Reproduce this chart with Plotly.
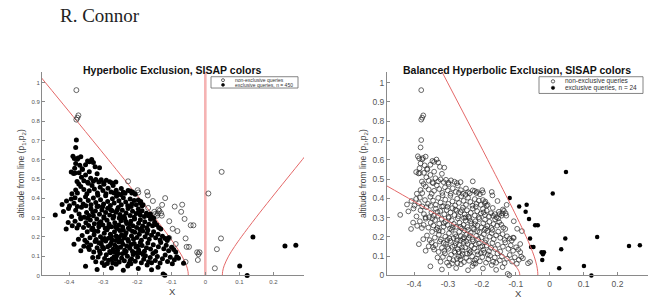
import plotly.graph_objects as go

# ---------------- data ----------------
# main query cloud: exclusive in the left chart, non-exclusive in the right chart
cluster_pts = [
    (-0.352,0.047),(-0.318,0.031),(-0.297,0.052),(-0.276,0.038),(-0.262,0.058),(-0.241,0.027),(-0.228,0.049),(-0.219,0.061),(-0.197,0.036),(-0.171,0.054),(-0.158,0.029),(-0.139,0.043),(-0.124,0.008),(-0.119,0.001),
    (-0.331,0.093),(-0.322,0.071),(-0.309,0.114),(-0.303,0.066),(-0.296,0.088),(-0.291,0.107),(-0.284,0.079),(-0.279,0.118),(-0.272,0.064),(-0.268,0.097),(-0.263,0.083),(-0.257,0.112),(-0.253,0.069),(-0.246,0.091),(-0.238,0.076),(-0.236,0.116),(-0.229,0.099),(-0.224,0.062),(-0.217,0.087),(-0.212,0.109),(-0.206,0.073),(-0.199,0.095),(-0.193,0.118),(-0.188,0.066),(-0.181,0.084),(-0.176,0.102),(-0.167,0.071),(-0.162,0.093),(-0.154,0.114),(-0.147,0.078),(-0.141,0.098),(-0.133,0.064),(-0.126,0.087),(-0.118,0.106),(-0.111,0.072),(-0.103,0.094),(-0.097,0.061),(-0.091,0.081),(-0.084,0.097),(-0.079,0.089),(-0.064,0.063),(-0.315,0.096),(-0.288,0.062),(-0.261,0.101),(-0.244,0.113),(-0.221,0.078),(-0.203,0.116),(-0.183,0.109),(-0.158,0.066),(-0.274,0.086),
    (-0.366,0.128),(-0.357,0.151),(-0.348,0.171),(-0.341,0.134),(-0.337,0.158),(-0.328,0.122),(-0.324,0.176),(-0.318,0.143),(-0.311,0.127),(-0.306,0.163),(-0.299,0.138),(-0.293,0.179),(-0.287,0.149),(-0.281,0.124),(-0.277,0.167),(-0.271,0.136),(-0.266,0.157),(-0.258,0.129),(-0.254,0.174),(-0.249,0.146),(-0.242,0.162),(-0.237,0.131),(-0.231,0.153),(-0.226,0.177),(-0.222,0.141),(-0.214,0.124),(-0.209,0.166),(-0.204,0.148),(-0.196,0.132),(-0.191,0.171),(-0.186,0.155),(-0.179,0.126),(-0.173,0.143),(-0.169,0.168),(-0.161,0.137),(-0.153,0.159),(-0.146,0.124),(-0.138,0.149),(-0.131,0.171),(-0.122,0.138),(-0.115,0.156),(-0.108,0.128),(-0.099,0.146),(-0.093,0.134),(-0.087,0.121),(-0.344,0.146),(-0.302,0.148),(-0.268,0.122),(-0.246,0.177),(-0.218,0.161),(-0.199,0.151),(-0.281,0.155),(-0.233,0.124),(-0.313,0.169),(-0.259,0.145),
    (-0.386,0.162),(-0.373,0.188),(-0.362,0.207),(-0.354,0.183),(-0.347,0.226),(-0.339,0.196),(-0.334,0.238),(-0.327,0.211),(-0.321,0.186),(-0.316,0.229),(-0.308,0.201),(-0.302,0.184),(-0.297,0.219),(-0.289,0.237),(-0.284,0.193),(-0.279,0.214),(-0.273,0.183),(-0.267,0.226),(-0.262,0.204),(-0.256,0.189),(-0.251,0.233),(-0.246,0.211),(-0.239,0.194),(-0.233,0.221),(-0.228,0.186),(-0.223,0.239),(-0.217,0.205),(-0.211,0.188),(-0.207,0.224),(-0.201,0.197),(-0.194,0.213),(-0.188,0.183),(-0.184,0.231),(-0.177,0.201),(-0.171,0.219),(-0.165,0.188),(-0.158,0.208),(-0.152,0.227),(-0.146,0.195),(-0.139,0.214),(-0.133,0.184),(-0.126,0.203),(-0.118,0.191),(-0.112,0.181),(-0.108,0.196),(-0.241,0.236),(-0.276,0.202),(-0.296,0.192),(-0.253,0.198),(-0.214,0.229),(-0.327,0.232),(-0.263,0.181),(-0.236,0.207),(-0.192,0.237),(-0.169,0.236),
    (-0.409,0.241),(-0.391,0.257),(-0.383,0.281),(-0.372,0.262),(-0.366,0.294),(-0.358,0.248),(-0.351,0.273),(-0.343,0.259),(-0.338,0.287),(-0.331,0.246),(-0.326,0.268),(-0.319,0.293),(-0.313,0.253),(-0.307,0.279),(-0.301,0.262),(-0.294,0.243),(-0.289,0.286),(-0.283,0.267),(-0.276,0.252),(-0.271,0.296),(-0.266,0.273),(-0.259,0.244),(-0.254,0.262),(-0.248,0.284),(-0.243,0.251),(-0.237,0.297),(-0.231,0.269),(-0.226,0.246),(-0.219,0.281),(-0.213,0.258),(-0.208,0.293),(-0.202,0.249),(-0.196,0.271),(-0.191,0.289),(-0.184,0.256),(-0.178,0.278),(-0.172,0.247),(-0.166,0.266),(-0.161,0.291),(-0.155,0.258),(-0.149,0.276),(-0.143,0.263),(-0.137,0.248),(-0.131,0.241),(-0.377,0.246),(-0.346,0.297),(-0.298,0.298),(-0.264,0.252),(-0.221,0.266),(-0.188,0.243),(-0.253,0.298),(-0.312,0.271),(-0.286,0.249),(-0.234,0.281),(-0.403,0.274),
    (-0.441,0.314),(-0.417,0.332),(-0.402,0.347),(-0.393,0.306),(-0.381,0.338),(-0.371,0.318),(-0.364,0.354),(-0.356,0.302),(-0.349,0.327),(-0.342,0.311),(-0.336,0.346),(-0.329,0.309),(-0.323,0.334),(-0.318,0.357),(-0.311,0.317),(-0.304,0.339),(-0.298,0.304),(-0.293,0.326),(-0.287,0.349),(-0.281,0.313),(-0.274,0.336),(-0.269,0.307),(-0.263,0.328),(-0.256,0.352),(-0.251,0.316),(-0.244,0.338),(-0.239,0.305),(-0.233,0.324),(-0.227,0.347),(-0.221,0.311),(-0.214,0.333),(-0.209,0.302),(-0.203,0.321),(-0.197,0.345),(-0.191,0.314),(-0.186,0.336),(-0.179,0.306),(-0.173,0.323),(-0.167,0.309),(-0.162,0.318),(-0.157,0.302),(-0.152,0.296),(-0.366,0.301),(-0.331,0.329),(-0.302,0.356),(-0.278,0.341),(-0.248,0.301),(-0.218,0.357),(-0.195,0.327),(-0.259,0.339),
    (-0.421,0.368),(-0.408,0.386),(-0.399,0.362),(-0.394,0.397),(-0.386,0.374),(-0.376,0.358),(-0.368,0.391),(-0.359,0.371),(-0.351,0.361),(-0.344,0.388),(-0.336,0.366),(-0.329,0.402),(-0.322,0.378),(-0.314,0.359),(-0.308,0.393),(-0.299,0.371),(-0.293,0.413),(-0.287,0.384),(-0.279,0.363),(-0.273,0.398),(-0.268,0.376),(-0.261,0.411),(-0.254,0.387),(-0.247,0.366),(-0.241,0.403),(-0.234,0.381),(-0.228,0.362),(-0.221,0.396),(-0.216,0.371),(-0.209,0.388),(-0.203,0.366),(-0.197,0.391),(-0.191,0.375),(-0.186,0.362),(-0.19,0.383),(-0.183,0.366),(-0.352,0.408),(-0.383,0.403),(-0.316,0.416),(-0.248,0.418),
    (-0.392,0.424),(-0.381,0.443),(-0.376,0.427),(-0.366,0.461),(-0.357,0.446),(-0.348,0.423),(-0.341,0.439),(-0.333,0.467),(-0.326,0.448),(-0.317,0.428),(-0.309,0.457),(-0.301,0.441),(-0.292,0.424),(-0.286,0.452),(-0.277,0.433),(-0.271,0.466),(-0.262,0.442),(-0.256,0.424),(-0.247,0.451),(-0.241,0.432),(-0.236,0.426),(-0.227,0.441),(-0.221,0.438),(-0.216,0.427),(-0.214,0.433),(-0.206,0.421),(-0.372,0.474),(-0.344,0.478),(-0.298,0.473),(-0.268,0.428),
    (-0.383,0.531),(-0.377,0.487),(-0.371,0.532),(-0.364,0.509),(-0.357,0.491),(-0.352,0.521),(-0.346,0.483),(-0.337,0.504),(-0.329,0.488),(-0.322,0.498),(-0.313,0.484),(-0.306,0.496),(-0.299,0.481),(-0.291,0.493),(-0.281,0.486),(-0.274,0.479),(-0.263,0.484),(-0.394,0.536),(-0.387,0.529),(-0.361,0.549),(-0.341,0.538),(-0.318,0.527),
    (-0.381,0.581),(-0.376,0.602),(-0.369,0.571),(-0.384,0.556),(-0.352,0.574),(-0.346,0.594),(-0.341,0.589),(-0.334,0.601),(-0.329,0.586),(-0.324,0.563),(-0.311,0.559),(-0.362,0.553),(-0.389,0.618),(-0.374,0.609),
    (-0.381,0.664),(-0.379,0.702),(-0.366,0.616),(-0.385,0.607),
]
# non-exclusive in both charts
mid_pts = [
    (-0.379,0.961),(-0.373,0.83),(-0.379,0.808),(-0.376,0.818),(-0.227,0.488),(-0.199,0.442),(-0.197,0.43),
    (-0.171,0.433),(-0.169,0.415),(-0.154,0.386),(-0.127,0.366),(-0.168,0.35),(-0.15,0.33),(-0.14,0.322),
    (-0.135,0.335),(-0.148,0.318),(-0.13,0.322),(-0.128,0.31),(-0.142,0.31),(-0.106,0.281),(-0.096,0.242),
    (-0.082,0.23),(-0.106,0.194),(-0.087,0.163),(-0.058,0.07),(-0.138,0.342),
]
# non-exclusive in the left chart, exclusive in the right chart
edge_pts = [
    (0.048,0.537),(0.009,0.425),(-0.118,0.401),(-0.09,0.357),(-0.068,0.367),(-0.071,0.33),(-0.061,0.293),
    (-0.043,0.26),(-0.035,0.26),(-0.058,0.192),(0.046,0.192),(-0.055,0.148),(-0.048,0.148),(0.034,0.136),
    (-0.024,0.12),(-0.017,0.12),(-0.02,0.11),(-0.022,0.08),(0.028,0.037),
]
# exclusive in both charts
far_pts = [(0.14,0.199),(0.234,0.153),(0.266,0.157),(0.101,0.049),(0.123,0.0)]

# exclusion boundaries
hyp_left_x = [-0.05,-0.0509,-0.0552,-0.0684,-0.0861,-0.106,-0.1488,-0.1935,-0.2848,-0.3772,-0.5165]
hyp_left_y = [0,0.02,0.05,0.1,0.15,0.2,0.3,0.4,0.6,0.8,1.1]
hyp_right_x = [0.05,0.0509,0.0552,0.0684,0.0861,0.106,0.1488,0.1935,0.2848,0.331]
hyp_right_y = [0,0.02,0.05,0.1,0.15,0.2,0.3,0.4,0.6,0.7]
mid_line_x = [0, 0]
mid_line_y = [0, 1.1]
bal_upper_x = [-0.035,-0.0355,-0.0381,-0.046,-0.0569,-0.0693,-0.0963,-0.1247,-0.1829,-0.2419,-0.3309]
bal_upper_y = [0,0.02,0.05,0.1,0.15,0.2,0.3,0.4,0.6,0.8,1.1]
bal_lower_x = [-0.088,-0.0903,-0.1016,-0.1345,-0.1762,-0.2217,-0.3176,-0.4164,-0.5162]
bal_lower_y = [0,0.02,0.05,0.1,0.15,0.2,0.3,0.4,0.5]

x_ticks = [-0.4,-0.3,-0.2,-0.1,0,0.1,0.2]
x_ticktext = ["-0.4","-0.3","-0.2","-0.1","0","0.1","0.2"]
y_ticks = [0,0.1,0.2,0.3,0.4,0.5,0.6,0.7,0.8,0.9,1]
y_ticktext = ["0","0.1","0.2","0.3","0.4","0.5","0.6","0.7","0.8","0.9","1"]

titles = ["Hyperbolic Exclusion, SISAP colors", "Balanced Hyperbolic Exclusion, SISAP colors"]
legend_labels_left = ["non-exclusive queries", "exclusive queries, n = 450"]
legend_labels_right = ["non-exclusive queries", "exclusive queries, n = 24"]

# ---------------- figure ----------------
W, H = 655, 306
def px(x): return x / W
def py(y): return 1 - y / H

def xs(p): return [a for a, b in p]
def ys(p): return [b for a, b in p]

RED = "#e46868"
PINK = "#f5b3b3"

fig = go.Figure()

def add_scatter(pts, filled, xa, ya, size):
    if filled:
        marker = dict(symbol="circle", size=size, color="black", line=dict(width=0))
    else:
        marker = dict(symbol="circle-open", size=size, color="#262626", line=dict(width=0.7))
    fig.add_trace(go.Scatter(x=xs(pts), y=ys(pts), mode="markers", marker=marker,
                             xaxis=xa, yaxis=ya, cliponaxis=False, showlegend=False,
                             hoverinfo="skip"))

def add_line(x, y, xa, ya, color, width):
    fig.add_trace(go.Scatter(x=x, y=y, mode="lines", line=dict(color=color, width=width, shape="spline"),
                             xaxis=xa, yaxis=ya, showlegend=False, hoverinfo="skip"))

# left chart
add_line(mid_line_x, mid_line_y, "x", "y", PINK, 2.6)
add_line(hyp_left_x, hyp_left_y, "x", "y", RED, 1)
add_line(hyp_right_x, hyp_right_y, "x", "y", RED, 1)
add_scatter(mid_pts + edge_pts, False, "x", "y", 5)
add_scatter(cluster_pts + far_pts, True, "x", "y", 5)

# right chart
add_scatter(cluster_pts + mid_pts, False, "x2", "y2", 4.8)
add_scatter(edge_pts + far_pts, True, "x2", "y2", 4.5)
add_line(bal_upper_x, bal_upper_y, "x2", "y2", RED, 1)
add_line(bal_lower_x, bal_lower_y, "x2", "y2", RED, 1)

ydom = [py(280), py(73)]
xr = [-0.48, 0.29]
yr = [0, 1.056]

def xaxis_cfg(dom, fs, anchor):
    return dict(domain=dom, range=xr, tickvals=x_ticks, ticktext=x_ticktext, showline=True,
                linecolor="#8a8a8a", linewidth=1, ticks="inside", ticklen=3, tickcolor="#8a8a8a",
                showgrid=False, zeroline=False, tickfont=dict(family="Liberation Sans", size=fs, color="#555"),
                anchor=anchor, fixedrange=True)

def yaxis_cfg(fs, anchor):
    return dict(domain=ydom, range=yr, tickvals=y_ticks, ticktext=y_ticktext, showline=True,
                linecolor="#8a8a8a", linewidth=1, ticks="inside", ticklen=3, tickcolor="#8a8a8a",
                showgrid=False, zeroline=False, tickfont=dict(family="Liberation Sans", size=fs, color="#555"),
                anchor=anchor, fixedrange=True)

fig.update_layout(
    width=W, height=H, margin=dict(l=0, r=0, t=0, b=0),
    paper_bgcolor="white", plot_bgcolor="white", showlegend=False,
    xaxis=xaxis_cfg([px(42), px(304)], 6, "y"),
    yaxis=yaxis_cfg(6, "x"),
    xaxis2=xaxis_cfg([px(387), px(648)], 8.5, "y2"),
    yaxis2=yaxis_cfg(8.5, "x2"),
)

ann = []
ann.append(dict(text="R. Connor", x=px(58), y=py(16), xanchor="left", yanchor="middle",
                font=dict(family="Liberation Serif", size=19, color="#222")))
ann.append(dict(text="<b>%s</b>" % titles[0], x=px(172.5), y=py(71), xanchor="center", yanchor="middle",
                font=dict(family="Liberation Sans", size=10.5, color="#111")))
ann.append(dict(text="<b>%s</b>" % titles[1], x=px(517), y=py(71), xanchor="center", yanchor="middle",
                font=dict(family="Liberation Sans", size=10.5, color="#111")))
ylab = "altitude from line (p<sub>1</sub>,p<sub>2</sub>)"
ann.append(dict(text=ylab, x=px(21), y=py(177), textangle=-90, xanchor="center", yanchor="middle",
                font=dict(family="Liberation Sans", size=8.5, color="#444")))
ann.append(dict(text=ylab, x=px(363), y=py(177), textangle=-90, xanchor="center", yanchor="middle",
                font=dict(family="Liberation Sans", size=8.5, color="#444")))
ann.append(dict(text="X", x=px(173), y=py(296), xanchor="center", yanchor="middle",
                font=dict(family="Liberation Sans", size=9.5, color="#444")))
ann.append(dict(text="X", x=px(518), y=py(298), xanchor="center", yanchor="middle",
                font=dict(family="Liberation Sans", size=9.5, color="#444")))

# legends
ann.append(dict(text=legend_labels_left[0], x=px(233), y=py(81.5), xanchor="left", yanchor="middle",
                font=dict(family="Liberation Sans", size=5, color="#333")))
ann.append(dict(text=legend_labels_left[1], x=px(233), y=py(86.3), xanchor="left", yanchor="middle",
                font=dict(family="Liberation Sans", size=5, color="#333")))
ann.append(dict(text=legend_labels_right[0], x=px(563), y=py(82.7), xanchor="left", yanchor="middle",
                font=dict(family="Liberation Sans", size=6.5, color="#333")))
ann.append(dict(text=legend_labels_right[1], x=px(563), y=py(89.3), xanchor="left", yanchor="middle",
                font=dict(family="Liberation Sans", size=6.5, color="#333")))
for a in ann:
    a.update(xref="paper", yref="paper", showarrow=False)
fig.update_layout(annotations=ann)

shapes = []
shapes.append(dict(type="rect", x0=px(211), x1=px(298), y0=py(89.5), y1=py(78), line=dict(color="#666", width=0.8)))
shapes.append(dict(type="rect", x0=px(539), x1=px(643), y0=py(95), y1=py(78), line=dict(color="#666", width=0.8)))
def circ(cx, cy, r, filled):
    return dict(type="circle", x0=px(cx - r), x1=px(cx + r), y0=py(cy + r), y1=py(cy - r),
                line=dict(color="#222", width=0.7), fillcolor="black" if filled else "rgba(0,0,0,0)")
shapes.append(circ(223, 81.5, 1.5, False))
shapes.append(circ(223, 86.3, 1.5, True))
shapes.append(circ(553, 82.7, 1.7, False))
shapes.append(circ(553, 89.3, 1.7, True))
for s in shapes:
    s.update(xref="paper", yref="paper")
fig.update_layout(shapes=shapes)

fig.write_html("out.html")
